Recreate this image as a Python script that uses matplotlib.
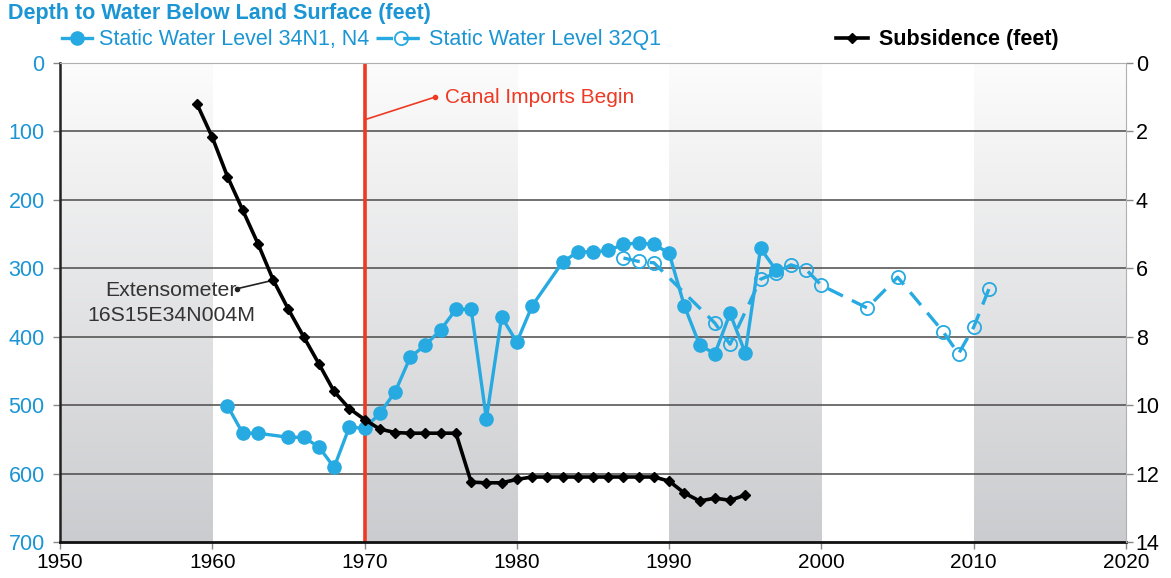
import matplotlib
matplotlib.use('Agg')
import matplotlib.pyplot as plt
import matplotlib.colors as colors
import numpy as np

plt.rcParams['font.family'] = ['Liberation Sans', 'DejaVu Sans']

# Static water level 34N1, N4 (depth to water, feet)
years_34n = [1961, 1962, 1963, 1965, 1966, 1967, 1968, 1969, 1970, 1971, 1972,
             1973, 1974, 1975, 1976, 1977, 1978, 1979, 1980, 1981, 1983, 1984,
             1985, 1986, 1987, 1988, 1989, 1990, 1991, 1992, 1993, 1994, 1995,
             1996, 1997]
depth_34n = [501, 541, 541, 547, 547, 561, 591, 532, 534, 512, 481,
             430, 412, 390, 360, 360, 520, 371, 408, 355, 291, 276,
             276, 274, 265, 263, 265, 278, 355, 412, 425, 366, 424,
             271, 302]

# Static water level 32Q1 (depth to water, feet)
years_32q = [1987, 1988, 1989, 1993, 1994, 1996, 1997, 1998, 1999, 2000,
             2003, 2005, 2008, 2009, 2010, 2011]
depth_32q = [285, 290, 292, 380, 411, 316, 307, 295, 302, 325,
             358, 313, 393, 425, 386, 330]

# Subsidence at extensometer 16S15E34N004M (feet)
years_sub = list(range(1959, 1996))
subsidence = [1.2, 2.17, 3.32, 4.3, 5.28, 6.34, 7.2, 8.0, 8.79, 9.6,
              10.1, 10.42, 10.7, 10.8, 10.82, 10.82, 10.82, 10.82, 12.25, 12.27,
              12.27, 12.17, 12.1, 12.1, 12.1, 12.1, 12.1, 12.1, 12.1, 12.1,
              12.1, 12.22, 12.57, 12.8, 12.72, 12.78, 12.63]

depth_ticks = [0, 100, 200, 300, 400, 500, 600, 700]
sub_ticks = [0, 2, 4, 6, 8, 10, 12, 14]
year_ticks = [1950, 1960, 1970, 1980, 1990, 2000, 2010, 2020]
shaded_decades = [1950, 1970, 1990, 2010]

BLUE = '#27aae1'
TICK_BLUE = '#1b95d3'
RED = '#ee3a24'
FS = 15.5

fig = plt.figure(figsize=(11.71, 5.78), dpi=100)
ax = fig.add_axes([0.0512, 0.0623, 0.9104, 0.8287])

# shaded decade bands with a vertical gradient
grad_cmap = colors.LinearSegmentedColormap.from_list('band', ['#fcfcfc', '#cbcccf'])
grad = np.linspace(0, 1, 256).reshape(-1, 1)
for x0 in shaded_decades:
    ax.imshow(grad, extent=(x0, x0 + 10, 700, 0), origin='upper', aspect='auto',
              cmap=grad_cmap, zorder=0, interpolation='bicubic')

ax.set_xlim(1950, 2020)
ax.set_ylim(700, 0)

for yv in depth_ticks[1:-1]:
    ax.axhline(yv, color='#4a4a4a', lw=1.1, zorder=1)

# canal imports
ax.axvline(1970, color=RED, lw=2.6, zorder=2)
ax.plot([1970, 1974.6], [83, 50], color=RED, lw=1.2, zorder=2)
ax.plot([1974.6], [50], 'o', color=RED, ms=3, zorder=2)
ax.text(1975.3, 50, 'Canal Imports Begin', color=RED, fontsize=15, va='center', ha='left')

l34, = ax.plot(years_34n, depth_34n, '-o', color=BLUE, lw=2.4, ms=9.5, zorder=4,
               label='Static Water Level 34N1, N4')
l32, = ax.plot(years_32q, depth_32q, '--o', color=BLUE, lw=2.4, ms=9.5, mfc='none',
               mew=1.3, dashes=(5, 3), zorder=4, label='Static Water Level 32Q1')

ax.set_xticks(year_ticks)
ax.set_yticks(depth_ticks)
ax.tick_params(axis='y', colors='#888888', labelcolor=TICK_BLUE, labelsize=FS,
               length=5, width=1, pad=6)
ax.tick_params(axis='x', colors='#888888', labelcolor='black', labelsize=15,
               length=5, width=1, pad=3)
ax.spines['left'].set_color('#222222')
ax.spines['left'].set_linewidth(1.8)
ax.spines['bottom'].set_color('#111111')
ax.spines['bottom'].set_linewidth(2)
ax.spines['top'].set_color('#b0b0b0')
ax.spines['right'].set_visible(False)

# extensometer label
ax.text(1957.3, 332, 'Extensometer', fontsize=15.3, color='#333333', ha='center', va='center')
ax.text(1957.3, 369, '16S15E34N004M', fontsize=15.3, color='#333333', ha='center', va='center')
ax.plot([1961.6, 1963.9], [330, 318], color='#222222', lw=1.2, zorder=5)
ax.plot([1961.6], [330], 'o', color='#222222', ms=3, zorder=5)

ax2 = ax.twinx()
ax2.set_ylim(14, 0)
ax2.set_yticks(sub_ticks)
lsub, = ax2.plot(years_sub, subsidence, '-D', color='black', lw=2.6, ms=5, zorder=5,
                 label='Subsidence (feet)')
ax2.tick_params(axis='y', colors='#888888', labelcolor='black', labelsize=FS,
                length=5, width=1, pad=2)
for s in ['left', 'top', 'bottom']:
    ax2.spines[s].set_visible(False)
ax2.spines['right'].set_color('#b0b0b0')

fig.text(0.007, 0.976, 'Depth to Water Below Land Surface (feet)', color=TICK_BLUE,
         fontsize=FS, fontweight='bold', va='center', ha='left')

leg_y = 1 - 40 / 578
fig.legend(handles=[l34], loc='center left', bbox_to_anchor=(62 / 1171, leg_y),
           frameon=False, fontsize=FS, labelcolor=TICK_BLUE, borderpad=0,
           handlelength=1.4, handletextpad=0.33, borderaxespad=0)
fig.legend(handles=[l32], loc='center left', bbox_to_anchor=(376 / 1171, leg_y),
           frameon=False, fontsize=FS, labelcolor=TICK_BLUE, borderpad=0,
           handlelength=2.3, handletextpad=0.15, borderaxespad=0)
fig.legend(handles=[lsub], loc='center left', bbox_to_anchor=(836 / 1171, leg_y),
           frameon=False, prop={'size': FS, 'weight': 'bold'}, borderpad=0,
           handlelength=1.5, handletextpad=0.5, borderaxespad=0)

fig.savefig('out.png', dpi=100)
